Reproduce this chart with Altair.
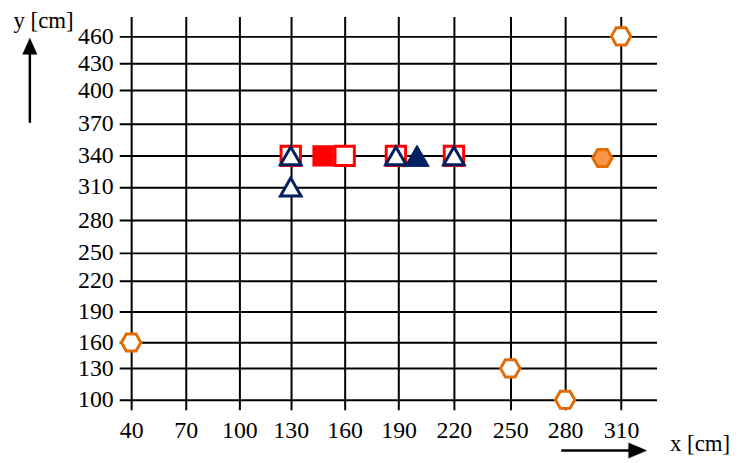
import altair as alt
import pandas as pd

# ---------------- data ----------------
x_ticks = [40, 70, 100, 130, 160, 190, 220, 250, 280, 310]
y_ticks = [100, 130, 160, 190, 220, 250, 280, 310, 340, 370, 400, 430, 460]

open_tri_x = [130, 130, 188.5, 220]
open_tri_y = [340, 310, 340, 340]

fill_tri_x = [200]
fill_tri_y = [340]

open_sq_x = [130, 160, 188.5, 220]
open_sq_y = [340, 340, 340, 340]

fill_sq_x = [148]
fill_sq_y = [340]

open_hex_x = [40, 250, 280, 310]
open_hex_y = [160, 130, 100, 460]

fill_hex_x = [300]
fill_hex_y = [338]

FONT = "Liberation Serif"
NAVY = "#002060"
RED = "#FF0000"
ORANGE = "#E36C09"
ORANGE_FILL = "#F79646"
FS = 24

W, H = 541, 396

# hand-drawn grid: piecewise linear scales
x_scale = alt.Scale(
    domain=[33.45] + x_ticks + [329.0],
    range=[0, 12, 67, 121, 172.7, 227, 281.3, 337, 393.7, 449, 505.3, W],
    nice=False, zero=False,
)
y_scale = alt.Scale(
    domain=[90.3] + y_ticks + [482.2],
    range=[H, 386, 354.3, 328.3, 296.7, 265.7, 237.7, 205, 171.7, 140.3,
           107.7, 74.3, 47.3, 20, 0],
    nice=False, zero=False,
)

x_axis = alt.Axis(
    values=x_ticks, grid=True, gridColor="#000000", gridWidth=2, gridOpacity=1,
    ticks=False, domain=False, labelFont=FONT, labelFontSize=FS,
    labelColor="#000000", labelPadding=9, labelFlush=False, labelOverlap=False,
    title="x [cm]", titleFont=FONT, titleFontSize=23, titleFontWeight="normal",
    titleColor="#000000", titleAngle=0, titleAlign="left",
    titleBaseline="alphabetic", titleX=554, titleY=41,
)
y_axis = alt.Axis(
    values=y_ticks, grid=True, gridColor="#000000", gridWidth=2, gridOpacity=1,
    ticks=False, domain=False, labelFont=FONT, labelFontSize=FS,
    labelColor="#000000", labelPadding=6, labelFlush=False, labelOverlap=False,
    title="y [cm]", titleFont=FONT, titleFontSize=23, titleFontWeight="normal",
    titleColor="#000000", titleAngle=0, titleAlign="left",
    titleBaseline="alphabetic", titleX=-107, titleY=11,
)


def enc(chart):
    return chart.encode(
        x=alt.X("x:Q", scale=x_scale, axis=x_axis),
        y=alt.Y("y:Q", scale=y_scale, axis=y_axis),
    )


def df(xs, ys):
    return pd.DataFrame({"x": xs, "y": ys})


HEX = "M-1,0L-0.5,-0.88L0.5,-0.88L1,0L0.5,0.88L-0.5,0.88Z"

open_sq = enc(alt.Chart(df(open_sq_x, open_sq_y)).mark_point(
    shape="square", size=380, filled=False, fill="white", fillOpacity=1,
    stroke=RED, strokeWidth=3, opacity=1))
fill_sq = enc(alt.Chart(df(fill_sq_x, fill_sq_y)).mark_point(
    shape="square", size=380, filled=True, fill=RED, stroke=RED,
    strokeWidth=2, opacity=1))
open_tri = enc(alt.Chart(df(open_tri_x, open_tri_y)).mark_point(
    shape="triangle-up", size=430, filled=False, fill="white", fillOpacity=1,
    stroke=NAVY, strokeWidth=3, opacity=1))
fill_tri = enc(alt.Chart(df(fill_tri_x, fill_tri_y)).mark_point(
    shape="triangle-up", size=600, filled=True, fill=NAVY, stroke=NAVY,
    strokeWidth=1, opacity=1))
open_hex = enc(alt.Chart(df(open_hex_x, open_hex_y)).mark_point(
    shape=HEX, size=380, filled=False, fill="white", fillOpacity=1,
    stroke=ORANGE, strokeWidth=3, opacity=1))
fill_hex = enc(alt.Chart(df(fill_hex_x, fill_hex_y)).mark_point(
    shape=HEX, size=380, filled=True, fill=ORANGE_FILL, stroke=ORANGE,
    strokeWidth=3, opacity=1))

# decorative axis arrows
one = pd.DataFrame({"a": [0]})
v_shaft = alt.Chart(one).mark_rule(color="#000000", strokeWidth=2.5).encode(
    x=alt.value(-90), y=alt.value(107), y2=alt.value(36))
v_head = alt.Chart(one).mark_point(
    shape="M0,-1L0.9,1L-0.9,1Z", size=256, filled=True, fill="#000000",
    stroke="#000000", strokeWidth=0.5, opacity=1).encode(
    x=alt.value(-90), y=alt.value(30))
h_shaft = alt.Chart(one).mark_rule(color="#000000", strokeWidth=2.5).encode(
    x=alt.value(445), x2=alt.value(520), y=alt.value(437))
h_head = alt.Chart(one).mark_point(
    shape="M1,0L-1,-0.85L-1,0.85Z", size=324, filled=True, fill="#000000",
    stroke="#000000", strokeWidth=0.5, opacity=1).encode(
    x=alt.value(522), y=alt.value(437))

chart = alt.layer(
    open_sq, fill_sq, open_tri, fill_tri, open_hex, fill_hex,
    v_shaft, v_head, h_shaft, h_head,
).properties(
    width=W, height=H,
    autosize=alt.AutoSizeParams(type="none"),
    padding={"left": 112, "top": 7, "right": 74, "bottom": 50},
    background="white",
).configure_view(stroke=None)

chart.save("out.html", embed_options={"renderer": "svg", "actions": False})
